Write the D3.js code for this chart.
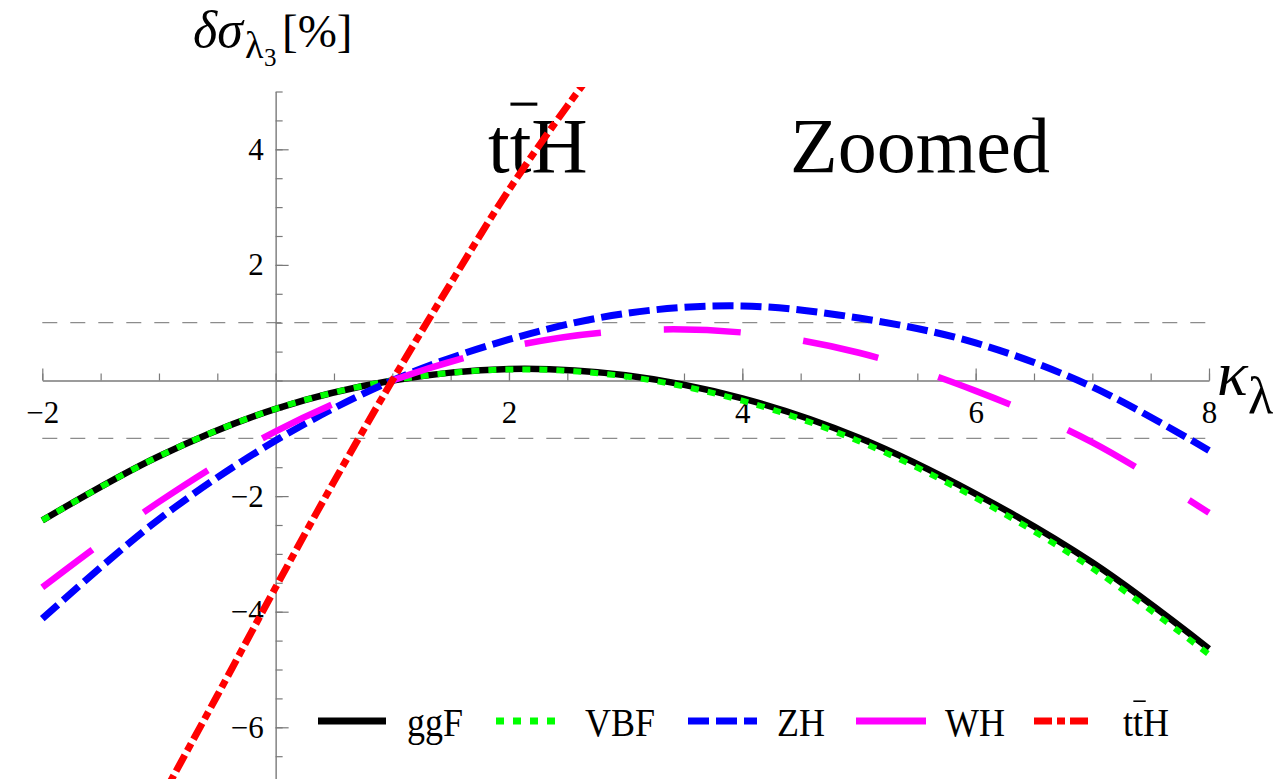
<!DOCTYPE html>
<html>
<head>
<meta charset="utf-8">
<script src="https://cdn.jsdelivr.net/npm/d3@7"></script>
<style>
  body { margin: 0; background: #fff; }
  svg text { font-family: "Liberation Serif", "Times New Roman", serif; fill: #000; }
</style>
</head>
<body>
<main></main>
<script>
// kappa_lambda sample points
const kappa = [-2, -1, 0, 1, 2, 3, 4, 5, 6, 7, 8];
const ggF = [-2.42, -1.31, -0.49, 0, 0.20, 0.09, -0.31, -0.99, -1.96, -3.15, -4.64];
const VBF = [-2.42, -1.31, -0.49, 0, 0.19, 0.07, -0.35, -1.05, -2.03, -3.25, -4.74];
const ZH = [-4.12, -2.40, -1.04, 0, 0.71, 1.16, 1.29, 1.08, 0.65, -0.11, -1.21];
const WH = [-3.58, -2.10, -0.88, 0, 0.58, 0.86, 0.83, 0.48, -0.18, -1.07, -2.29];
const kappaTTH = [-1, -0.5, 0, 0.5, 1, 1.5, 2, 2.5, 3];
const ttH = [-7.3, -5.45, -3.58, -1.75, 0, 1.68, 3.3, 4.75, 6.1];

const xTicks = [-2, 2, 4, 6, 8];
const yTicks = [-6, -4, -2, 2, 4];
const refLines = [1, -1];

const W = 1288, H = 779;
const svg = d3.select('main').append('svg')
    .attr('width', W)
    .attr('height', H);

const x = d3.scaleLinear().domain([-2, 8]).range([42.3, 1209]);
const y = d3.scaleLinear().domain([-7, 5]).range([785.1, 91.5]);
const axisGrey = '#7a7a7a';
const minus = d => d3.format('')(d).replace('-', '\u2212');

// dashed reference lines at +-1 %
svg.selectAll('.ref')
    .data(refLines)
    .enter()
    .append('line')
    .attr('x1', x(-2)).attr('x2', x(8))
    .attr('y1', d => y(d)).attr('y2', d => y(d))
    .attr('stroke', '#8c8c8c')
    .attr('stroke-width', 1.3)
    .attr('stroke-dasharray', '15,13');

const styleAxis = (g) => {
    g.attr('font-family', null);
    g.select('.domain').attr('stroke', axisGrey).attr('stroke-width', 1.4);
    g.selectAll('.tick line').attr('stroke', axisGrey).attr('stroke-width', 1.2);
    g.selectAll('.tick text').style('font-size', '31px').attr('fill', '#000');
};

const halves = d3.range(-2, 8.01, 0.5);
const yHalves = d3.range(-7, 5.01, 0.5);

// x axis: minor ticks, then major ticks with labels
svg.append('g')
    .attr('transform', `translate(0, ${y(0)})`)
    .call(d3.axisBottom(x).tickValues(halves).tickSize(-7).tickSizeOuter(0).tickFormat(''))
    .call(styleAxis);
svg.append('g')
    .attr('transform', `translate(0, ${y(0)})`)
    .call(d3.axisBottom(x).tickValues(xTicks).tickSize(-12).tickSizeOuter(0).tickPadding(20).tickFormat(minus))
    .call(styleAxis)
    .call(g => g.select('.domain').remove());

// y axis
svg.append('g')
    .attr('transform', `translate(${x(0)}, 0)`)
    .call(d3.axisLeft(y).tickValues(yHalves).tickSize(-7).tickSizeOuter(0).tickFormat(''))
    .call(styleAxis);
svg.append('g')
    .attr('transform', `translate(${x(0)}, 0)`)
    .call(d3.axisLeft(y).tickValues(yTicks).tickSize(-13).tickSizeOuter(0).tickPadding(12).tickFormat(minus))
    .call(styleAxis)
    .call(g => g.select('.domain').remove());

// axis titles
svg.append('text').attr('x', 193).attr('y', 47).style('font-size', '52px').style('font-style', 'italic').text('δσ');
svg.append('text').attr('x', 245).attr('y', 58).style('font-size', '38px').text('λ');
svg.append('text').attr('x', 264).attr('y', 66).style('font-size', '25px').text('3');
svg.append('text').attr('x', 282).attr('y', 47).style('font-size', '47px').text('[%]');

svg.append('text').attr('x', 1217).attr('y', 395).style('font-size', '64px').style('font-style', 'italic').text('κ');
svg.append('text').attr('x', 1248).attr('y', 413).style('font-size', '52px').text('λ');

// text with a bar over the second t
const ttbar = (sel, fx, fy, size, barPad, sx) => {
    const g = sel.append('g').attr('transform', `translate(${fx},${fy}) scale(${sx || 1},1)`);
    const t = g.append('text').style('font-size', size + 'px').text('ttH');
    const ext = t.node().getExtentOfChar(1);
    g.append('line')
        .attr('x1', ext.x + size * 0.01).attr('x2', ext.x + ext.width + barPad)
        .attr('y1', -size * 0.87).attr('y2', -size * 0.87)
        .attr('stroke', '#000').attr('stroke-width', size * 0.04);
};
ttbar(svg, 488, 172, 78, 6);
svg.append('text').attr('x', 790).attr('y', 172).style('font-size', '78px').text('Zoomed');

// curves
const series = [
    { name: 'ggF', k: kappa, v: ggF, color: '#000000', width: 6.5, dash: null, off: 0, len: 68 },
    { name: 'VBF', k: kappa, v: VBF, color: '#00ff00', width: 6, dash: '8,9', off: 0, len: 62 },
    { name: 'ZH', k: kappa, v: ZH, color: '#0000ff', width: 7, dash: '21,7', off: 0, len: 69 },
    { name: 'WH', k: kappa, v: WH, color: '#ff00ff', width: 6.5, dash: '77,63', off: 14, len: 70 },
    { name: 'ttH', k: kappaTTH, v: ttH, color: '#ff0000', width: 7, dash: '18,5,8,5', off: 0, len: 56 }
];

svg.append('clipPath').attr('id', 'plotclip')
    .append('rect')
    .attr('x', x(-2) - 4).attr('y', y(5.08))
    .attr('width', x(8) - x(-2) + 8).attr('height', H);

const line = d3.line()
    .x(d => x(d[0]))
    .y(d => y(d[1]))
    .curve(d3.curveCatmullRom.alpha(0.5));

const plot = svg.append('g').attr('clip-path', 'url(#plotclip)');
series.forEach((s) => {
    plot.append('path')
        .datum(s.k.map((k, i) => [k, s.v[i]]))
        .attr('d', line)
        .attr('fill', 'none')
        .attr('stroke', s.color)
        .attr('stroke-width', s.width)
        .attr('stroke-dasharray', s.dash)
        .attr('stroke-dashoffset', s.off);
});

// legend
const legendX = [318, 496, 688, 856, 1034];
const legendY = 721;
const lg = svg.append('g');
series.forEach((s, i) => {
    lg.append('line')
        .attr('x1', legendX[i]).attr('x2', legendX[i] + s.len)
        .attr('y1', legendY).attr('y2', legendY)
        .attr('stroke', s.color)
        .attr('stroke-width', 7)
        .attr('stroke-dasharray', s.dash);
    if (s.name === 'ttH') {
        ttbar(lg, legendX[i] + 89, legendY + 15, 40, 3, 0.9);
    } else {
        lg.append('text')
            .attr('transform', `translate(${legendX[i] + 89},${legendY + 15}) scale(0.9,1)`)
            .style('font-size', '40px')
            .text(s.name);
    }
});
</script>
</body>
</html>
